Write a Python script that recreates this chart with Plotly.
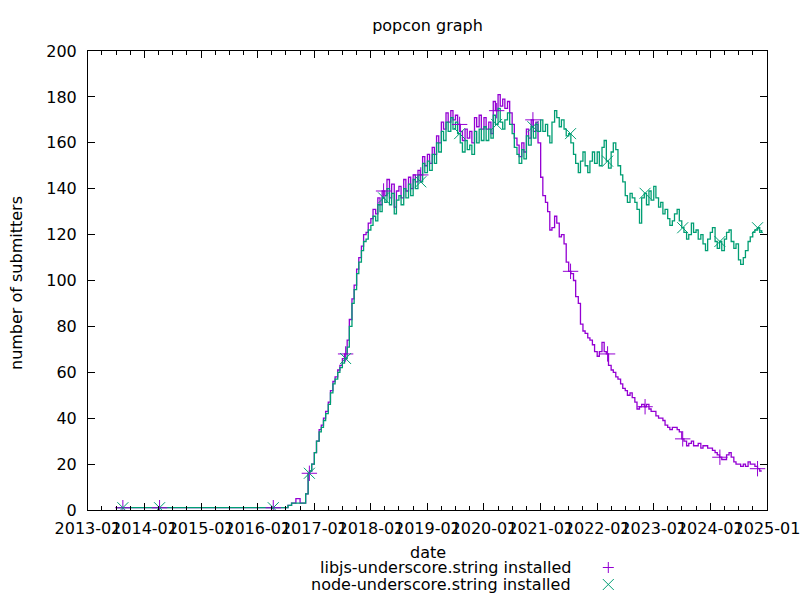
import pandas as pd
import plotly.graph_objects as go

# ---------------- data ----------------
early_dates = ["2013-07-05", "2016-07-15", "2016-08-07", "2016-09-04",
               "2016-10-01", "2016-11-06", "2016-11-22"]
early_libjs = [1, 2, 3, 5, 3, 7, 16]
early_node = [1, 2, 3, 3, 3, 7, 16]

# semi-monthly readings (1st and 15th of each month), 2016-12 .. 2024-11
libjs_2016 = [17, 20]
node_2016 = [17, 20]
libjs_2017 = [25, 30, 35, 37, 40, 43, 47, 52, 56, 58, 61, 63, 66, 68, 74, 83, 92, 98, 105, 110, 115, 120, 121, 125]
node_2017 = [25, 30, 34, 36, 39, 42, 46, 51, 55, 57, 60, 62, 64, 66, 71, 80, 90, 96, 103, 108, 113, 117, 118, 122]
libjs_2018 = [127, 131, 129, 136, 133, 139, 137, 144, 136, 142, 132, 139, 141, 136, 144, 139, 145, 140, 146, 143, 148, 146, 154, 150]
node_2018 = [124, 128, 126, 133, 130, 136, 134, 140, 133, 138, 129, 135, 137, 133, 140, 136, 142, 137, 144, 140, 146, 143, 151, 147]
libjs_2019 = [155, 151, 158, 155, 163, 160, 169, 166, 173, 169, 174, 170, 172, 168, 165, 161, 166, 162, 165, 160, 171, 167, 172, 166]
node_2019 = [152, 148, 155, 151, 160, 156, 165, 161, 169, 165, 171, 166, 169, 164, 160, 156, 161, 157, 159, 155, 165, 160, 166, 161]
libjs_2020 = [171, 166, 169, 164, 178, 174, 181, 176, 179, 175, 178, 173, 168, 162, 159, 154, 160, 156, 166, 162, 170, 165, 169, 160]
node_2020 = [167, 161, 166, 162, 172, 168, 175, 169, 166, 170, 173, 168, 164, 158, 155, 151, 157, 153, 163, 159, 167, 162, 168, 165]
libjs_2021 = [145, 137, 134, 130, 122, 123, 128, 125, 119, 120, 116, 108, 104, 103, 100, 93, 90, 81, 78, 77, 75, 74, 72, 69]
node_2021 = [170, 165, 168, 163, 160, 169, 174, 171, 167, 170, 166, 163, 164, 160, 155, 151, 147, 152, 156, 150, 147, 152, 156, 151]
libjs_2022 = [67, 69, 73, 69, 68, 63, 61, 60, 58, 57, 55, 53, 52, 50, 51, 49, 47, 44, 45, 46, 45, 46, 44, 43]
node_2022 = [156, 150, 158, 161, 152, 149, 156, 160, 157, 150, 146, 143, 137, 134, 138, 136, 134, 131, 125, 136, 138, 133, 139, 135]
libjs_2023 = [43, 41, 40, 40, 39, 37, 36, 35, 36, 36, 35, 34, 31, 30, 28, 29, 30, 28, 28, 29, 27, 28, 28, 27]
node_2023 = [141, 136, 132, 134, 129, 131, 127, 124, 126, 129, 131, 126, 123, 121, 118, 120, 125, 121, 122, 118, 120, 116, 113, 118]
libjs_2024 = [27, 26, 25, 24, 23, 22, 22, 24, 25, 23, 21, 20, 20, 19, 20, 19, 21, 20, 20, 19, 18, 17]
node_2024 = [121, 123, 117, 114, 117, 113, 118, 121, 122, 117, 114, 116, 109, 107, 110, 113, 117, 119, 121, 122, 123, 121]

last_date = "2024-11-28"
last_libjs = 17
last_node = 122

marker_dates = ["2013-08-14", "2014-04-08", "2016-04-11", "2016-11-30", "2017-07-22",
                "2018-03-24", "2018-11-19", "2019-07-28", "2020-03-23", "2020-11-12",
                "2021-07-13", "2022-03-09", "2022-11-06", "2023-07-07", "2024-03-03",
                "2024-11-01"]

series_names = ["libjs-underscore.string installed", "node-underscore.string installed"]
colors = ["#9400d3", "#009e73"]

x_ticks_start = "2013-01-01"
x_ticks_end = "2025-01-01"

# ---------------- build ----------------
def semi_monthly(start_year, start_month, n):
    out = []
    y, m = start_year, start_month
    while len(out) < n:
        out.append(f"{y:04d}-{m:02d}-01")
        if len(out) < n:
            out.append(f"{y:04d}-{m:02d}-15")
        m += 1
        if m > 12:
            m = 1
            y += 1
    return out

libjs_mid = (libjs_2016 + libjs_2017 + libjs_2018 + libjs_2019 + libjs_2020 +
             libjs_2021 + libjs_2022 + libjs_2023 + libjs_2024)
node_mid = (node_2016 + node_2017 + node_2018 + node_2019 + node_2020 +
            node_2021 + node_2022 + node_2023 + node_2024)
mid_dates = semi_monthly(2016, 12, len(libjs_mid))

dates = early_dates + mid_dates + [last_date]
libjs = early_libjs + libjs_mid + [last_libjs]
node = early_node + node_mid + [last_node]

s_libjs = pd.Series(libjs, index=pd.to_datetime(dates))
s_node = pd.Series(node, index=pd.to_datetime(dates))


def value_at(s, d):
    d = pd.Timestamp(d)
    return s[s.index <= d].iloc[-1]


fig = go.Figure()
for s, col in zip([s_libjs, s_node], colors):
    fig.add_trace(go.Scatter(x=s.index, y=s.values, mode="lines",
                             line=dict(color=col, width=1.3, shape="hv"),
                             showlegend=False, hoverinfo="skip"))

symbols = ["cross-thin", "x-thin"]
for s, col, sym in zip([s_libjs, s_node], colors, symbols):
    fig.add_trace(go.Scatter(x=pd.to_datetime(marker_dates),
                             y=[value_at(s, d) for d in marker_dates],
                             mode="markers",
                             marker=dict(symbol=sym, size=11, color=col,
                                         line=dict(color=col, width=1)),
                             showlegend=False, hoverinfo="skip"))

font = dict(family="DejaVu Sans", size=16, color="black")
W, H = 800, 600
L, R, T, B = 88, 767, 51, 510

def px2paper_x(px):
    return (px - L) / (R - L)

def px2paper_y(py):
    return (B - py) / (B - T)

fig.update_layout(
    width=W, height=H,
    margin=dict(l=L, r=W - R, t=T, b=H - B, autoexpand=False),
    plot_bgcolor="white", paper_bgcolor="white",
    font=font,
    showlegend=False,
    title=dict(text="popcon graph", x=px2paper_x(427.5), xref="paper",
               y=1 - 25 / H, yanchor="middle", xanchor="center",
               font=font),
)
tick_vals = pd.date_range(x_ticks_start, x_ticks_end, freq="YS")
fig.update_xaxes(
    type="date",
    range=[pd.Timestamp(x_ticks_start), pd.Timestamp(x_ticks_end) + pd.Timedelta(hours=2)],
    tickvals=tick_vals, ticktext=[d.strftime("%Y-%m") for d in tick_vals],
    tickangle=0, automargin=False, ticklabelstandoff=4, ticklabeloverflow="allow",
    ticks="inside", ticklen=7, tickcolor="black", tickwidth=1,
    minor=dict(dtick="M3", tick0=x_ticks_start, ticks="inside", ticklen=4, tickcolor="black"),
    showline=True, linecolor="black", linewidth=1, mirror="allticks",
    showgrid=False, zeroline=False, tickfont=font,
)
fig.update_yaxes(
    range=[0, 200], dtick=20, tick0=0, automargin=False, ticklabelstandoff=7,
    ticks="inside", ticklen=7, tickcolor="black", tickwidth=1,
    showline=True, linecolor="black", linewidth=1, mirror="allticks",
    showgrid=False, zeroline=False, tickfont=font,
)

annotations = [
    dict(text="date", xref="paper", yref="paper", x=px2paper_x(427.5),
         y=px2paper_y(552.5), xanchor="center", yanchor="middle",
         showarrow=False, font=font),
    dict(text="number of submitters", xref="paper", yref="paper",
         x=px2paper_x(16), y=px2paper_y(283), textangle=-90,
         xanchor="center", yanchor="middle", showarrow=False, font=font),
]
legend_y = [567.5, 584.5]
for name, py in zip(series_names, legend_y):
    annotations.append(dict(text=name, xref="paper", yref="paper",
                            x=px2paper_x(573), y=px2paper_y(py),
                            xanchor="right", yanchor="middle",
                            showarrow=False, font=font))
fig.update_layout(annotations=annotations)

# legend samples (symbols drawn to the right of the text, as in the original)
cx = 608.3
hs = 5.5
shapes = []
py = legend_y[0]
shapes.append(dict(type="line", xref="paper", yref="paper",
                   x0=px2paper_x(cx - hs), x1=px2paper_x(cx + hs),
                   y0=px2paper_y(py), y1=px2paper_y(py),
                   line=dict(color=colors[0], width=1)))
shapes.append(dict(type="line", xref="paper", yref="paper",
                   x0=px2paper_x(cx), x1=px2paper_x(cx),
                   y0=px2paper_y(py - hs), y1=px2paper_y(py + hs),
                   line=dict(color=colors[0], width=1)))
py = legend_y[1]
shapes.append(dict(type="line", xref="paper", yref="paper",
                   x0=px2paper_x(cx - hs), x1=px2paper_x(cx + hs),
                   y0=px2paper_y(py - hs), y1=px2paper_y(py + hs),
                   line=dict(color=colors[1], width=1)))
shapes.append(dict(type="line", xref="paper", yref="paper",
                   x0=px2paper_x(cx - hs), x1=px2paper_x(cx + hs),
                   y0=px2paper_y(py + hs), y1=px2paper_y(py - hs),
                   line=dict(color=colors[1], width=1)))
fig.update_layout(shapes=shapes)

fig.write_html("out.html", config={"displayModeBar": False},
               post_script="document.body.style.margin='0';document.body.style.overflow='hidden';")
